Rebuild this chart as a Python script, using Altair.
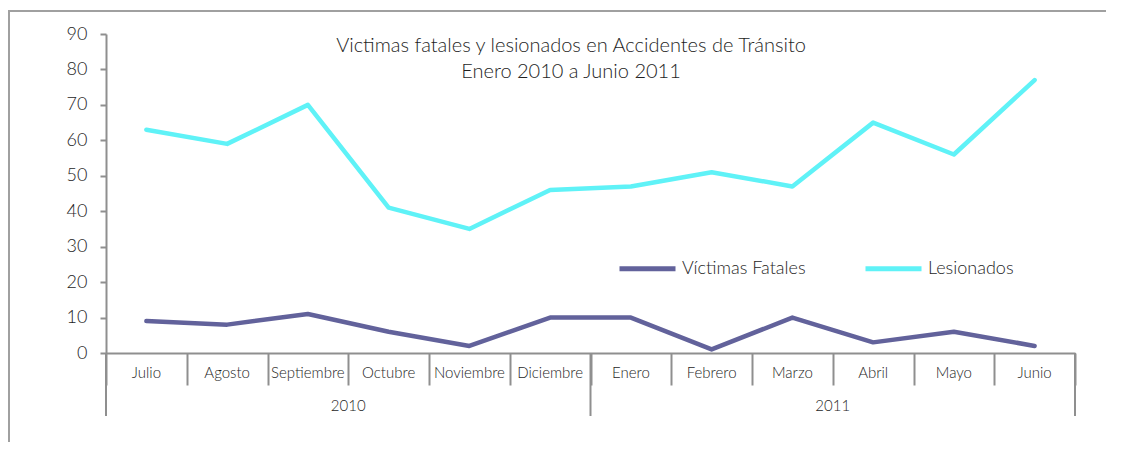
import altair as alt
import pandas as pd

months = ["Julio", "Agosto", "Septiembre", "Octubre", "Noviembre", "Diciembre",
          "Enero", "Febrero", "Marzo", "Abril", "Mayo", "Junio"]
years = ["2010", "2011"]
fatales = [9, 8, 11, 6, 2, 10, 10, 1, 10, 3, 6, 2]
lesionados = [63, 59, 70, 41, 35, 46, 47, 51, 47, 65, 56, 77]
series_names = ["Víctimas Fatales", "Lesionados"]
series_colors = ["#62629b", "#5ff2f7"]
title_lines = ["Victimas fatales y lesionados en Accidentes de Tránsito",
               "Enero 2010 a Junio 2011"]

FONT = "Lato"
TXT = "#1e1e1e"
GRAY = "#8f8f8f"
W, H = 969, 319

rows = []
for i, m in enumerate(months):
    rows.append({"pos": i + 0.5, "mes": m, "serie": series_names[0], "valor": fatales[i]})
    rows.append({"pos": i + 0.5, "mes": m, "serie": series_names[1], "valor": lesionados[i]})
df = pd.DataFrame(rows)
mdf = pd.DataFrame({"pos": [i + 0.5 for i in range(len(months))], "mes": months})
ydf = pd.DataFrame({"pos": [3, 9], "anio": years})
sep = pd.DataFrame({"pos": [0, 6, 12]})

xs = alt.Scale(domain=[0, 12], nice=False, zero=False)

lines = alt.Chart(df).mark_line(strokeWidth=4.5, strokeCap="round", strokeJoin="round").encode(
    x=alt.X("pos:Q", scale=xs, axis=alt.Axis(values=list(range(13)), labels=False, title=None,
                                             tickSize=32, tickWidth=2, tickColor=GRAY,
                                             domainColor=GRAY, domainWidth=2, grid=False)),
    y=alt.Y("valor:Q", scale=alt.Scale(domain=[0, 90], nice=False),
            axis=alt.Axis(values=list(range(0, 91, 10)), title=None, tickSize=6, tickWidth=2,
                          tickColor=GRAY, domainColor=GRAY, domainWidth=2, grid=False,
                          labelFontSize=18, labelPadding=13, labelColor=TXT, labelFont=FONT,
                          labelFontWeight=300)),
    color=alt.Color("serie:N", sort=series_names,
                    scale=alt.Scale(domain=series_names, range=series_colors),
                    legend=alt.Legend(orient="none", legendX=511, legendY=204, direction="horizontal",
                                      title=None, symbolType="stroke", symbolSize=3136,
                                      symbolStrokeWidth=5, labelFontSize=18, labelFont=FONT,
                                      labelFontWeight=300,
                                      labelColor=TXT, labelOffset=4, columnPadding=49,
                                      labelLimit=300)),
    detail="serie:N",
)

month_text = alt.Chart(mdf).mark_text(fontSize=15, font=FONT, fontWeight=300, color=TXT,
                                      baseline="middle").encode(
    x=alt.X("pos:Q", scale=xs), y=alt.value(H + 20), text="mes:N")

year_text = alt.Chart(ydf).mark_text(fontSize=15, font=FONT, fontWeight=300, color=TXT,
                                     baseline="middle").encode(
    x=alt.X("pos:Q", scale=xs), y=alt.value(H + 53), text="anio:N")

year_rules = alt.Chart(sep).mark_rule(color=GRAY, strokeWidth=2).encode(
    x=alt.X("pos:Q", scale=xs), y=alt.value(H), y2=alt.value(H + 63))

title1 = alt.Chart(pd.DataFrame({"t": [title_lines[0]]})).mark_text(
    fontSize=20, font=FONT, fontWeight=300, color=TXT, baseline="middle").encode(
    x=alt.value(465), y=alt.value(12), text="t:N")
title2 = alt.Chart(pd.DataFrame({"t": [title_lines[1]]})).mark_text(
    fontSize=20, font=FONT, fontWeight=300, color=TXT, baseline="middle").encode(
    x=alt.value(465), y=alt.value(38), text="t:N")

frame = alt.Chart(pd.DataFrame({"a": [0]})).mark_rect(
    fill=None, stroke="#a0a0a0", strokeWidth=2, clip=False).encode(
    x=alt.value(-97), x2=alt.value(1100), y=alt.value(-23), y2=alt.value(500))

chart = alt.layer(frame, year_rules, lines, month_text, year_text, title1, title2).properties(
    width=W, height=H,
    autosize=alt.AutoSizeParams(type="none"),
    padding={"left": 98, "top": 26, "right": 31, "bottom": 89},
).configure(background="white").configure_view(stroke=None)

chart.save("out.html", embed_options={"renderer": "svg", "actions": False})
